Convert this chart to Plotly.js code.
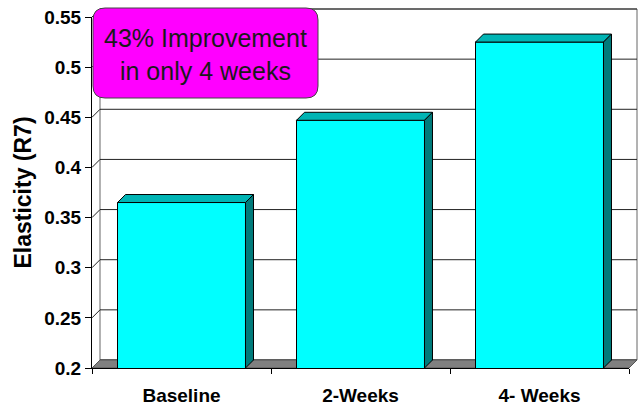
<!DOCTYPE html>
<html>
<head>
<meta charset="utf-8">
<script src="https://cdn.plot.ly/plotly-3.0.1.min.js"></script>
<style>html,body{margin:0;padding:0;background:#fff;}#chart{width:644px;height:410px;}</style>
</head>
<body>
<div id="chart"></div>
<script>
// ---- data ----
const categories = ['Baseline', '2-Weeks', '4- Weeks'];
const elasticity = [0.365, 0.447, 0.525];
const yTickVals = [0.2, 0.25, 0.3, 0.35, 0.4, 0.45, 0.5, 0.55];
const yTickText = ['0.2', '0.25', '0.3', '0.35', '0.4', '0.45', '0.5', '0.55'];
const calloutLines = ['43% Improvement', 'in only 4 weeks'];
const yTitle = 'Elasticity (R7)';

// ---- layout geometry ----
const W = 644, H = 410;
const M = {l: 92, r: 15, t: 17, b: 42};
const plotW = W - M.l - M.r, plotH = H - M.t - M.b;
const xRange = [-0.5, categories.length - 0.5];
const yRange = [yTickVals[0], yTickVals[yTickVals.length - 1]];
const depth = 8; // px of 3D depth
const barW = 0.715;
const font = 'Liberation Sans, Arial, sans-serif';

const pxPerX = plotW / (xRange[1] - xRange[0]);
const pxPerY = plotH / (yRange[1] - yRange[0]);
const dxD = depth / pxPerX, dyD = depth / pxPerY;      // data units
const dxP = depth / plotW, dyP = depth / plotH;        // paper units
const yP = v => (v - yRange[0]) / (yRange[1] - yRange[0]);
const pxX = px => (px - M.l) / plotW;
const pxY = py => (M.t + plotH - py) / plotH;

const shapes = [];
// back wall
shapes.push({type: 'path', xref: 'paper', yref: 'paper', layer: 'below',
  path: `M${dxP},${dyP} L${dxP},${1 + dyP} L${1 + dxP},${1 + dyP} L${1 + dxP},${dyP} Z`,
  fillcolor: '#ffffff', line: {color: '#666666', width: 1}});
// gridlines on back wall + diagonals on left wall
yTickVals.forEach(v => {
  shapes.push({type: 'line', xref: 'paper', yref: 'paper', layer: 'below',
    x0: dxP, x1: 1 + dxP, y0: yP(v) + dyP, y1: yP(v) + dyP,
    line: {color: '#222222', width: 1}});
  shapes.push({type: 'line', xref: 'paper', yref: 'paper', layer: 'below',
    x0: 0, x1: dxP, y0: yP(v), y1: yP(v) + dyP,
    line: {color: '#222222', width: 1}});
});
// floor
shapes.push({type: 'path', xref: 'paper', yref: 'paper', layer: 'below',
  path: `M0,0 L${dxP},${dyP} L${1 + dxP},${dyP} L1,0 Z`,
  fillcolor: '#808080', line: {color: '#555555', width: 1}});

// bar top and side faces
elasticity.forEach((v, i) => {
  const x0 = i - barW / 2, x1 = i + barW / 2, base = yRange[0];
  shapes.push({type: 'path', xref: 'x', yref: 'y', layer: 'above',
    path: `M${x0},${v} L${x0 + dxD},${v + dyD} L${x1 + dxD},${v + dyD} L${x1},${v} Z`,
    fillcolor: '#00B4B4', line: {color: '#000000', width: 1}});
  shapes.push({type: 'path', xref: 'x', yref: 'y', layer: 'above',
    path: `M${x1},${v} L${x1 + dxD},${v + dyD} L${x1 + dxD},${base + dyD} L${x1},${base} Z`,
    fillcolor: '#007B7B', line: {color: '#000000', width: 1}});
});

// callout box (rounded)
(function () {
  const x0 = 93, x1 = 318, y0 = 8, y1 = 98, r = 12;
  const P = (x, y) => `${pxX(x)},${pxY(y)}`;
  const path = `M${P(x0 + r, y0)} L${P(x1 - r, y0)} Q${P(x1, y0)} ${P(x1, y0 + r)} ` +
    `L${P(x1, y1 - r)} Q${P(x1, y1)} ${P(x1 - r, y1)} L${P(x0 + r, y1)} ` +
    `Q${P(x0, y1)} ${P(x0, y1 - r)} L${P(x0, y0 + r)} Q${P(x0, y0)} ${P(x0 + r, y0)} Z`;
  shapes.push({type: 'path', xref: 'paper', yref: 'paper', layer: 'above',
    path: path, fillcolor: '#FF00FF', line: {color: '#444444', width: 1}});
})();

const trace = {
  type: 'bar', x: categories, y: elasticity, width: barW,
  marker: {color: '#00FFFF', line: {color: '#000000', width: 1}},
  hoverinfo: 'skip'
};

const layout = {
  width: W, height: H,
  margin: M,
  paper_bgcolor: '#ffffff', plot_bgcolor: 'rgba(0,0,0,0)',
  showlegend: false,
  font: {family: font, color: '#000000'},
  xaxis: {
    type: 'category', range: xRange, showgrid: false, zeroline: false,
    showline: true, linecolor: '#000000', linewidth: 1,
    tickson: 'boundaries', ticks: 'outside', ticklen: 5, tickcolor: '#000000',
    ticklabelstandoff: 10,
    tickfont: {family: font, size: 19, weight: 700, color: '#000000'},
    fixedrange: true
  },
  yaxis: {
    range: yRange, showgrid: false, zeroline: false,
    showline: true, linecolor: '#000000', linewidth: 1,
    tickmode: 'array', tickvals: yTickVals, ticktext: yTickText,
    ticks: 'outside', ticklen: 6, tickcolor: '#000000',
    tickfont: {family: font, size: 19, weight: 700, color: '#000000'},
    title: {text: yTitle, standoff: 6, font: {family: font, size: 23, weight: 700, color: '#000000'}},
    fixedrange: true
  },
  shapes: shapes,
  annotations: [{
    xref: 'paper', yref: 'paper', x: pxX(205), y: pxY(55),
    xanchor: 'center', yanchor: 'middle', showarrow: false,
    text: calloutLines.join('<br>'),
    font: {family: font, size: 25, color: '#1a1a1a'}
  }]
};

Plotly.newPlot('chart', [trace], layout, {displayModeBar: false, staticPlot: true});
</script>
</body>
</html>
